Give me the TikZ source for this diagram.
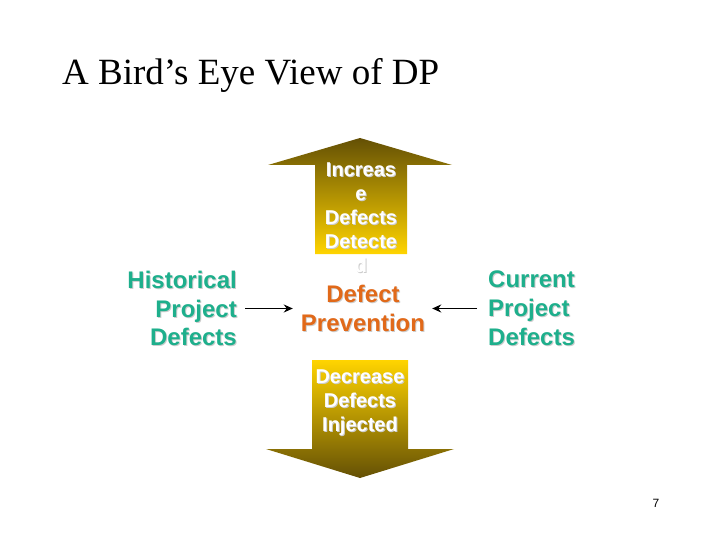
\documentclass[tikz,border=0pt]{standalone}
\usepackage{fontspec}
\setmainfont{Liberation Serif}
\newfontfamily\arialf{Liberation Sans}
\usetikzlibrary{arrows.meta}
\definecolor{tealtxt}{RGB}{30,175,140}
\definecolor{orgtxt}{RGB}{225,105,25}
\definecolor{arrdark}{RGB}{100,80,5}
\definecolor{arrgold}{RGB}{255,212,0}
\definecolor{shadowc}{RGB}{205,205,205}
\begin{document}
\begin{tikzpicture}[x=1pt,y=-1pt,
  big/.style={inner sep=0pt, align=#1, font=\arialf\bfseries\fontsize{24}{28.8}\selectfont},
  big/.default=center,
  small/.style={inner sep=0pt, align=center, text=white, font=\arialf\bfseries\fontsize{20}{24}\selectfont},
  shad/.style={text=shadowc},
  conn/.style={line width=1.8pt, -{Stealth[length=9pt,width=8pt]}}
]
\useasboundingbox (0,0) rectangle (720,540);
% title
\node[anchor=base west, inner sep=0pt, font=\fontsize{37}{44}\selectfont] (title) at (62,85) {A Bird’s Eye View of DP};
% arrows
\shade[top color=arrdark, bottom color=arrgold] (360,138) -- (452,165) -- (407,165) -- (407,254) -- (315,254) -- (315,165) -- (268,165) -- cycle;
\shade[top color=arrgold, bottom color=arrdark] (312,360) -- (408,360) -- (408,449) -- (454,449) -- (360,478) -- (266,449) -- (312,449) -- cycle;
% arrow texts
\node[small, shad] (ups) at (362,219) {Increas\\e\\Defects\\Detecte\\d};
\node[small] (up) at (361,218) {Increas\\e\\Defects\\Detecte\\d};
\node[small, shad] (downs) at (361,404) {Decrease\\Defects\\Injected};
\node[small] (down) at (360,403) {Decrease\\Defects\\Injected};
% side texts
\node[big=right, shad, anchor=east] (hists) at (238,309.5) {Historical\\Project\\Defects};
\node[big=right, text=tealtxt, anchor=east] (hist) at (237,308.5) {Historical\\Project\\Defects};
\node[big, shad] (dps) at (364,309.5) {Defect\\Prevention};
\node[big, text=orgtxt] (dp) at (363,308.5) {Defect\\Prevention};
\node[big=left, shad, anchor=west] (curs) at (489,309.5) {Current\\Project\\Defects};
\node[big=left, text=tealtxt, anchor=west] (cur) at (488,308.5) {Current\\Project\\Defects};
% connectors
\draw[conn, shorten <=8pt, shorten >=8pt] (hist.east) -- (hist.east -| dp.west);
\draw[conn, shorten <=11pt, shorten >=7pt] (cur.west) -- (cur.west -| dp.east);
% page number
\node[inner sep=0pt, font=\arialf\fontsize{12}{14}\selectfont] (pg) at (656,503) {7};
\end{tikzpicture}
\end{document}
